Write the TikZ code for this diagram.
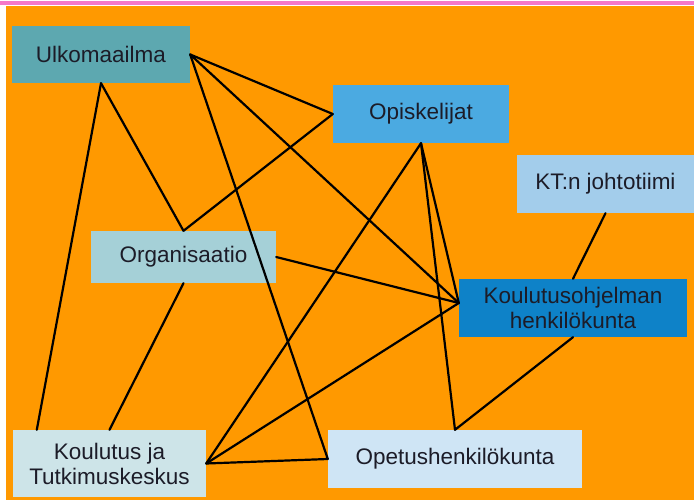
\documentclass[tikz,border=0pt]{standalone}
\usepackage{fontspec}
\setmainfont{Liberation Sans}
\usetikzlibrary{calc}
\definecolor{bgorange}{RGB}{255,153,0}
\definecolor{pinkline}{RGB}{245,120,200}
\definecolor{txt}{RGB}{28,28,40}
\definecolor{cUlko}{RGB}{93,168,176}
\definecolor{cOpis}{RGB}{75,170,225}
\definecolor{cKT}{RGB}{163,205,235}
\definecolor{cOrg}{RGB}{165,208,215}
\definecolor{cKO}{RGB}{14,130,200}
\definecolor{cKTK}{RGB}{205,228,232}
\definecolor{cOH}{RGB}{207,229,245}
\begin{document}
\begin{tikzpicture}[x=1pt,y=-1pt,
  box/.style={rectangle, inner sep=0pt, align=center, text=txt,
    font=\fontsize{22.5}{25}\selectfont},
  link/.style={line width=2.2pt, black, line cap=round, line join=round}]
\useasboundingbox (0,0) rectangle (694,500);
\fill[white] (0,0) rectangle (694,500);
\fill[pinkline] (0,1.5) rectangle (694,5);
\fill[bgorange] (6,6) rectangle (694,500);

\node[box, fill=cUlko, minimum width=178pt, minimum height=57pt] (U) at (101,54.5) {Ulkomaailma};
\node[box, fill=cOpis, minimum width=176pt, minimum height=58pt] (Op) at (421,114) {Opiskelijat};
\node[box, fill=cKT, minimum width=177pt, minimum height=58pt] (KT) at (605.5,184) {KT:n johtotiimi};
\node[box, fill=cOrg, minimum width=185pt, minimum height=52pt] (Org) at (183.5,257) {Organisaatio};
\node[box, fill=cKO, minimum width=228pt, minimum height=58pt] (KO) at (573,308) {Koulutusohjelman\\henkilökunta};
\node[box, fill=cKTK, minimum width=193pt, minimum height=67pt] (KTK) at (109.5,463.5) {Koulutus ja\\Tutkimuskeskus};
\node[box, fill=cOH, minimum width=254pt, minimum height=58pt] (OH) at (455,459) {Opetushenkilökunta};

\coordinate (kol) at ($(KO.west)+(0,-5)$);
\coordinate (ktkl) at ($(KTK.north west)+(24,0)$);

\draw[link] (U.east) -- (Op.west);
\draw[link] (U.east) -- (kol);
\draw[link] (U.east) -- (OH.west);
\draw[link] (U.south) -- (Org.north);
\draw[link] (U.south) -- (ktkl);
\draw[link] (Op.west) -- (Org.north);
\draw[link] (Op.south) -- (KTK.east);
\draw[link] (Op.south) -- (kol);
\draw[link] (Op.south) -- (OH.north);
\draw[link] (Org.east) -- (kol);
\draw[link] (Org.south) -- (KTK.north);
\draw[link] (KTK.east) -- (kol);
\draw[link] (KTK.east) -- (OH.west);
\draw[link] (KT.south) -- (KO.north);
\draw[link] (KO.south) -- (OH.north);
\end{tikzpicture}
\end{document}
